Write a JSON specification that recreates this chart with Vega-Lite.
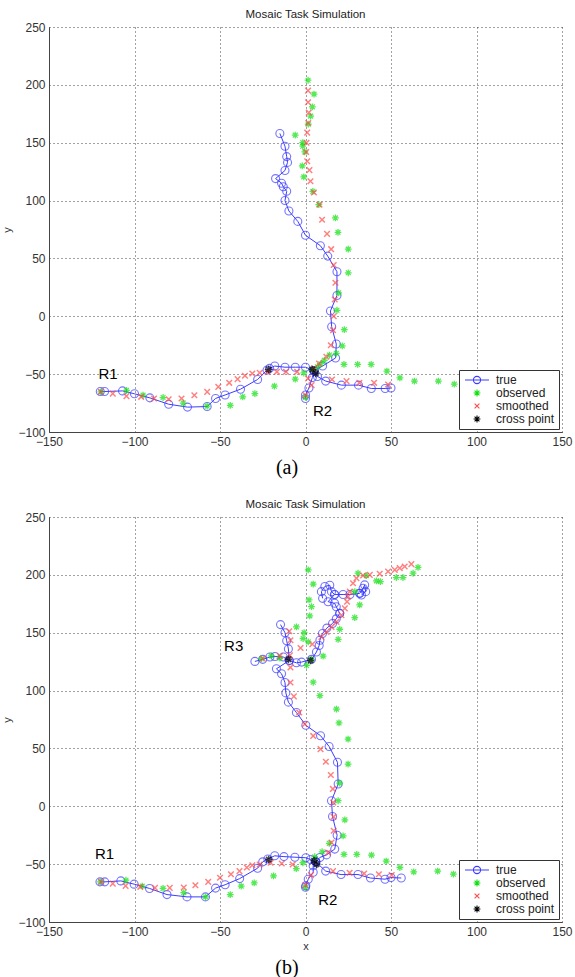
{
"$schema": "https://vega.github.io/schema/vega-lite/v6.json",
"background": "white",
"padding": {"left": 1, "top": 8, "right": 0, "bottom": 0},
"config": {
  "view": {"stroke": null},
  "font": "Liberation Sans",
  "title": {"font": "Liberation Sans", "fontSize": 11.5, "fontWeight": "normal", "color": "#222", "offset": 1},
  "axis": {"grid": true, "gridColor": "#444", "gridDash": [1, 3], "gridWidth": 1, "domainColor": "#444", "domainWidth": 1, "ticks": false, "labelFont": "Liberation Sans", "labelFontSize": 12, "labelColor": "#333", "labelPadding": 4, "labelOverlap": false, "labelFlush": false, "labelBound": false, "titleFont": "Liberation Sans", "titleFontSize": 11, "titleFontWeight": "normal", "titleColor": "#333"},
  "legend": {"title": null, "orient": "bottom-right", "offset": 3, "strokeColor": "#333", "fillColor": "white", "padding": 4, "labelFont": "Liberation Sans", "labelFontSize": 12, "labelColor": "#222", "symbolSize": 64, "symbolStrokeWidth": 1.1, "symbolOpacity": 1, "rowPadding": 1, "labelOffset": 21, "cornerRadius": 0}
},
"datasets": {
"a": [
{"s":"true","g":1,"i":0,"x":-15,"y":158},{"s":"true","g":1,"i":1,"x":-12,"y":147},{"s":"true","g":1,"i":2,"x":-11,"y":138},{"s":"true","g":1,"i":3,"x":-10.5,"y":133},{"s":"true","g":1,"i":4,"x":-12,"y":126},{"s":"true","g":1,"i":5,"x":-17.5,"y":119},{"s":"true","g":1,"i":6,"x":-14,"y":115},{"s":"true","g":1,"i":7,"x":-13,"y":112},{"s":"true","g":1,"i":8,"x":-11,"y":108},{"s":"true","g":1,"i":9,"x":-12,"y":100},{"s":"true","g":1,"i":10,"x":-9.7,"y":91},{"s":"true","g":1,"i":11,"x":-4.5,"y":82},{"s":"true","g":1,"i":12,"x":0,"y":70},{"s":"true","g":1,"i":13,"x":8.7,"y":61},{"s":"true","g":1,"i":14,"x":13,"y":52},{"s":"true","g":1,"i":15,"x":18.4,"y":38.5},{"s":"true","g":1,"i":16,"x":18.4,"y":18},{"s":"true","g":1,"i":17,"x":14.6,"y":4.6},{"s":"true","g":1,"i":18,"x":15.3,"y":-9},{"s":"true","g":1,"i":19,"x":18,"y":-24},{"s":"true","g":1,"i":20,"x":17.6,"y":-36},{"s":"true","g":1,"i":21,"x":10,"y":-43},{"s":"true","g":1,"i":22,"x":5,"y":-47},
{"s":"true","g":2,"i":0,"x":5,"y":-47},{"s":"true","g":2,"i":1,"x":4,"y":-53},{"s":"true","g":2,"i":2,"x":2,"y":-62},{"s":"true","g":2,"i":3,"x":0,"y":-68},{"s":"true","g":2,"i":4,"x":0,"y":-71},
{"s":"true","g":3,"i":0,"x":5,"y":-47},{"s":"true","g":3,"i":1,"x":0,"y":-44},{"s":"true","g":3,"i":2,"x":-6,"y":-44},{"s":"true","g":3,"i":3,"x":-12,"y":-44},{"s":"true","g":3,"i":4,"x":-18,"y":-43},{"s":"true","g":3,"i":5,"x":-21,"y":-45},{"s":"true","g":3,"i":6,"x":-22.5,"y":-46.5},{"s":"true","g":3,"i":7,"x":-28,"y":-54.6},{"s":"true","g":3,"i":8,"x":-38,"y":-63},{"s":"true","g":3,"i":9,"x":-47,"y":-68},{"s":"true","g":3,"i":10,"x":-52.6,"y":-71},{"s":"true","g":3,"i":11,"x":-57.5,"y":-78},{"s":"true","g":3,"i":12,"x":-69,"y":-78.5},{"s":"true","g":3,"i":13,"x":-80,"y":-76},{"s":"true","g":3,"i":14,"x":-91,"y":-70.5},{"s":"true","g":3,"i":15,"x":-100,"y":-67},{"s":"true","g":3,"i":16,"x":-107,"y":-64.5},{"s":"true","g":3,"i":17,"x":-117.5,"y":-65},{"s":"true","g":3,"i":18,"x":-120,"y":-65},
{"s":"true","g":4,"i":0,"x":5,"y":-47},{"s":"true","g":4,"i":1,"x":7,"y":-52},{"s":"true","g":4,"i":2,"x":11.8,"y":-56},{"s":"true","g":4,"i":3,"x":21,"y":-59.5},{"s":"true","g":4,"i":4,"x":31,"y":-59.5},{"s":"true","g":4,"i":5,"x":38.5,"y":-62.4},{"s":"true","g":4,"i":6,"x":46.6,"y":-62.4},{"s":"true","g":4,"i":7,"x":50,"y":-62},
{"s":"observed","x":1.5,"y":204},{"s":"observed","x":5,"y":192},{"s":"observed","x":4,"y":181},{"s":"observed","x":3,"y":173},{"s":"observed","x":1.6,"y":166},{"s":"observed","x":-6,"y":156.5},{"s":"observed","x":-1.6,"y":150},{"s":"observed","x":-1.6,"y":147},{"s":"observed","x":-0.4,"y":142},{"s":"observed","x":-1.9,"y":130},{"s":"observed","x":-1,"y":120.5},{"s":"observed","x":4.3,"y":108},{"s":"observed","x":7.8,"y":96.5},{"s":"observed","x":17.5,"y":85},{"s":"observed","x":19,"y":72.5},{"s":"observed","x":25,"y":58},{"s":"observed","x":25,"y":37.6},{"s":"observed","x":19.4,"y":20.3},{"s":"observed","x":18.4,"y":5.2},{"s":"observed","x":22.7,"y":-11.6},{"s":"observed","x":21.5,"y":-25.5},{"s":"observed","x":18,"y":-32},{"s":"observed","x":14,"y":-33.5},{"s":"observed","x":11,"y":-38},{"s":"observed","x":9,"y":-41},{"s":"observed","x":7,"y":-43.6},{"s":"observed","x":4,"y":-46},{"s":"observed","x":-1,"y":-49},{"s":"observed","x":-6,"y":-54.3},{"s":"observed","x":22.5,"y":-41.6},{"s":"observed","x":30.5,"y":-41.6},{"s":"observed","x":38.4,"y":-41.6},{"s":"observed","x":47.6,"y":-47.4},{"s":"observed","x":55.2,"y":-53.2},{"s":"observed","x":63.7,"y":-56},{"s":"observed","x":77.7,"y":-56},{"s":"observed","x":87,"y":-58.7},{"s":"observed","x":-18.2,"y":-60.4},{"s":"observed","x":-29.6,"y":-66.8},{"s":"observed","x":-36.7,"y":-69.6},{"s":"observed","x":-44,"y":-77},{"s":"observed","x":-57.5,"y":-77.7},{"s":"observed","x":-71.5,"y":-75},{"s":"observed","x":-83.3,"y":-70.2},{"s":"observed","x":-95,"y":-68.2},{"s":"observed","x":-104.7,"y":-64},{"s":"observed","x":-119.7,"y":-65.3},{"s":"observed","x":0,"y":-70},
{"s":"smoothed","x":1.5,"y":195},{"s":"smoothed","x":1.5,"y":185},{"s":"smoothed","x":1.9,"y":176},{"s":"smoothed","x":1.6,"y":167},{"s":"smoothed","x":1,"y":158.7},{"s":"smoothed","x":0.6,"y":150},{"s":"smoothed","x":0.4,"y":142},{"s":"smoothed","x":1,"y":134},{"s":"smoothed","x":2.3,"y":126.3},{"s":"smoothed","x":2.9,"y":116.7},{"s":"smoothed","x":4.9,"y":107},{"s":"smoothed","x":8.2,"y":96.4},{"s":"smoothed","x":9.7,"y":83.4},{"s":"smoothed","x":12.6,"y":71.2},{"s":"smoothed","x":15,"y":58},{"s":"smoothed","x":16.5,"y":44.3},{"s":"smoothed","x":17.5,"y":29},{"s":"smoothed","x":17.1,"y":14.5},{"s":"smoothed","x":16.5,"y":0},{"s":"smoothed","x":16.1,"y":-12},{"s":"smoothed","x":14.8,"y":-25},{"s":"smoothed","x":12.2,"y":-35},{"s":"smoothed","x":7.9,"y":-40.8},{"s":"smoothed","x":5,"y":-45},{"s":"smoothed","x":1.5,"y":-53.8},{"s":"smoothed","x":3.6,"y":-59.5},{"s":"smoothed","x":0,"y":-68},{"s":"smoothed","x":15.5,"y":-54.6},{"s":"smoothed","x":24,"y":-56},{"s":"smoothed","x":31.5,"y":-57.5},{"s":"smoothed","x":40.1,"y":-57.5},{"s":"smoothed","x":48.3,"y":-59},{"s":"smoothed","x":-4.9,"y":-48},{"s":"smoothed","x":-11.4,"y":-48},{"s":"smoothed","x":-16.7,"y":-48},{"s":"smoothed","x":-22.1,"y":-48},{"s":"smoothed","x":-26.8,"y":-48.8},{"s":"smoothed","x":-31.1,"y":-49.4},{"s":"smoothed","x":-35.4,"y":-51.4},{"s":"smoothed","x":-39.7,"y":-54.3},{"s":"smoothed","x":-44.6,"y":-57.5},{"s":"smoothed","x":-51,"y":-61},{"s":"smoothed","x":-57.5,"y":-65.3},{"s":"smoothed","x":-65,"y":-68.2},{"s":"smoothed","x":-72.5,"y":-71},{"s":"smoothed","x":-80,"y":-71.7},{"s":"smoothed","x":-88.6,"y":-71},{"s":"smoothed","x":-96.1,"y":-69.6},{"s":"smoothed","x":-104.7,"y":-69},{"s":"smoothed","x":-112.7,"y":-66.8},{"s":"smoothed","x":-119.7,"y":-65.3},
{"s":"cross point","x":4,"y":-46},{"s":"cross point","x":6,"y":-49.5},{"s":"cross point","x":-21.5,"y":-46},
{"s":"label","t":"R1","x":-115.5,"y":-50},{"s":"label","t":"R2","x":10,"y":-82}
],
"b": [
{"s":"true","g":1,"i":0,"x":10,"y":179.7},{"s":"true","g":1,"i":1,"x":9.3,"y":185.5},{"s":"true","g":1,"i":2,"x":11.3,"y":190},{"s":"true","g":1,"i":3,"x":14.2,"y":191},{"s":"true","g":1,"i":4,"x":15.2,"y":185.5},{"s":"true","g":1,"i":5,"x":17,"y":183},{"s":"true","g":1,"i":6,"x":13.2,"y":176.8},{"s":"true","g":1,"i":7,"x":17,"y":175.4},{"s":"true","g":1,"i":8,"x":18,"y":172.5},{"s":"true","g":1,"i":9,"x":20,"y":166.7},
{"s":"true","g":2,"i":0,"x":17,"y":183},{"s":"true","g":2,"i":1,"x":22,"y":183},{"s":"true","g":2,"i":2,"x":26,"y":183},{"s":"true","g":2,"i":3,"x":31.7,"y":184},
{"s":"true","g":3,"i":0,"x":31.7,"y":184},{"s":"true","g":3,"i":1,"x":33.7,"y":188.4},{"s":"true","g":3,"i":2,"x":34.6,"y":191.3},{"s":"true","g":3,"i":3,"x":35.2,"y":185.5},{"s":"true","g":3,"i":4,"x":32.7,"y":182.6},
{"s":"true","g":4,"i":0,"x":20,"y":166.7},{"s":"true","g":4,"i":1,"x":18,"y":162},{"s":"true","g":4,"i":2,"x":15.8,"y":158},{"s":"true","g":4,"i":3,"x":12.5,"y":154},{"s":"true","g":4,"i":4,"x":9.9,"y":149.3},{"s":"true","g":4,"i":5,"x":8.4,"y":143.5},{"s":"true","g":4,"i":6,"x":8,"y":139},{"s":"true","g":4,"i":7,"x":6.4,"y":133.3},{"s":"true","g":4,"i":8,"x":3.5,"y":127},{"s":"true","g":4,"i":9,"x":-2.3,"y":124.6},{"s":"true","g":4,"i":10,"x":-5.3,"y":124},{"s":"true","g":4,"i":11,"x":-9.5,"y":126},{"s":"true","g":4,"i":12,"x":-13,"y":129},{"s":"true","g":4,"i":13,"x":-17.9,"y":129.5},{"s":"true","g":4,"i":14,"x":-20.8,"y":129},{"s":"true","g":4,"i":15,"x":-25,"y":127},{"s":"true","g":4,"i":16,"x":-29.6,"y":125.2},
{"s":"true","g":5,"i":0,"x":-14.6,"y":157},{"s":"true","g":5,"i":1,"x":-12,"y":150},{"s":"true","g":5,"i":2,"x":-11,"y":143},{"s":"true","g":5,"i":3,"x":-10,"y":136},{"s":"true","g":5,"i":4,"x":-9.5,"y":126},{"s":"true","g":5,"i":5,"x":-17,"y":118.8},{"s":"true","g":5,"i":6,"x":-14,"y":114.5},{"s":"true","g":5,"i":7,"x":-12,"y":107},{"s":"true","g":5,"i":8,"x":-11.5,"y":98},{"s":"true","g":5,"i":9,"x":-10,"y":90},{"s":"true","g":5,"i":10,"x":-5.3,"y":81},{"s":"true","g":5,"i":11,"x":0.2,"y":70},{"s":"true","g":5,"i":12,"x":8.8,"y":61},{"s":"true","g":5,"i":13,"x":13.8,"y":51.7},{"s":"true","g":5,"i":14,"x":18.7,"y":38},{"s":"true","g":5,"i":15,"x":19.1,"y":19.2},{"s":"true","g":5,"i":16,"x":15.2,"y":4.8},{"s":"true","g":5,"i":17,"x":15.8,"y":-8.8},{"s":"true","g":5,"i":18,"x":18.5,"y":-25},{"s":"true","g":5,"i":19,"x":17.1,"y":-37},{"s":"true","g":5,"i":20,"x":12.3,"y":-42},{"s":"true","g":5,"i":21,"x":8.4,"y":-44.2},{"s":"true","g":5,"i":22,"x":6,"y":-48},
{"s":"true","g":6,"i":0,"x":6,"y":-48},{"s":"true","g":6,"i":1,"x":4.5,"y":-51.5},{"s":"true","g":6,"i":2,"x":4.5,"y":-57},{"s":"true","g":6,"i":3,"x":1.6,"y":-63},{"s":"true","g":6,"i":4,"x":0.2,"y":-68.7},{"s":"true","g":6,"i":5,"x":0,"y":-70},
{"s":"true","g":7,"i":0,"x":6,"y":-48},{"s":"true","g":7,"i":1,"x":3,"y":-46},{"s":"true","g":7,"i":2,"x":0.2,"y":-44.5},{"s":"true","g":7,"i":3,"x":-6.2,"y":-44},{"s":"true","g":7,"i":4,"x":-12.6,"y":-43.5},{"s":"true","g":7,"i":5,"x":-18,"y":-42.8},{"s":"true","g":7,"i":6,"x":-22,"y":-45.5},{"s":"true","g":7,"i":7,"x":-25,"y":-48},{"s":"true","g":7,"i":8,"x":-28,"y":-53.5},{"s":"true","g":7,"i":9,"x":-38.5,"y":-62.5},{"s":"true","g":7,"i":10,"x":-47,"y":-67.8},{"s":"true","g":7,"i":11,"x":-52.6,"y":-70.7},{"s":"true","g":7,"i":12,"x":-58.5,"y":-78.3},{"s":"true","g":7,"i":13,"x":-69.3,"y":-78.3},{"s":"true","g":7,"i":14,"x":-81,"y":-76.3},{"s":"true","g":7,"i":15,"x":-91.2,"y":-71},{"s":"true","g":7,"i":16,"x":-100.2,"y":-67.3},{"s":"true","g":7,"i":17,"x":-108,"y":-64.5},{"s":"true","g":7,"i":18,"x":-117.4,"y":-65.3},{"s":"true","g":7,"i":19,"x":-120.2,"y":-65.3},
{"s":"true","g":8,"i":0,"x":6,"y":-48},{"s":"true","g":8,"i":1,"x":11.8,"y":-56},{"s":"true","g":8,"i":2,"x":20.8,"y":-59},{"s":"true","g":8,"i":3,"x":30.7,"y":-59},{"s":"true","g":8,"i":4,"x":38,"y":-62},{"s":"true","g":8,"i":5,"x":46.5,"y":-63},{"s":"true","g":8,"i":6,"x":50,"y":-61.6},{"s":"true","g":8,"i":7,"x":56,"y":-62},
{"s":"observed","x":1.6,"y":204.3},{"s":"observed","x":4.5,"y":192},{"s":"observed","x":2.1,"y":178.3},{"s":"observed","x":3.5,"y":172.5},{"s":"observed","x":2.5,"y":164.6},{"s":"observed","x":-5.3,"y":155},{"s":"observed","x":-0.8,"y":150},{"s":"observed","x":-1.4,"y":145},{"s":"observed","x":1.6,"y":142},{"s":"observed","x":3.5,"y":127},{"s":"observed","x":0.6,"y":121.7},{"s":"observed","x":4.5,"y":107.2},{"s":"observed","x":8.4,"y":95.6},{"s":"observed","x":18.1,"y":84},{"s":"observed","x":19.6,"y":72},{"s":"observed","x":24.9,"y":58},{"s":"observed","x":30.7,"y":201.4},{"s":"observed","x":35.6,"y":199.4},{"s":"observed","x":41.5,"y":194.8},{"s":"observed","x":43.8,"y":194.2},{"s":"observed","x":53.1,"y":197.7},{"s":"observed","x":57,"y":197.7},{"s":"observed","x":62.9,"y":201.4},{"s":"observed","x":65.8,"y":206.4},{"s":"observed","x":28.8,"y":185.5},{"s":"observed","x":31.7,"y":174},{"s":"observed","x":28.8,"y":163},{"s":"observed","x":20,"y":153},{"s":"observed","x":19.1,"y":144.3},{"s":"observed","x":10.3,"y":129.8},{"s":"observed","x":-25.7,"y":127.5},{"s":"observed","x":-20,"y":130},{"s":"observed","x":-15,"y":128},
{"s":"observed","x":24.9,"y":36.5},{"s":"observed","x":20,"y":20},{"s":"observed","x":19.1,"y":4.8},{"s":"observed","x":23,"y":-11.7},{"s":"observed","x":22,"y":-25.5},{"s":"observed","x":13.9,"y":-32},{"s":"observed","x":9.7,"y":-39.3},{"s":"observed","x":5.4,"y":-43.6},{"s":"observed","x":-1.5,"y":-48.8},{"s":"observed","x":-5.4,"y":-53.8},{"s":"observed","x":22.5,"y":-41.6},{"s":"observed","x":30,"y":-41.6},{"s":"observed","x":38.6,"y":-42.2},{"s":"observed","x":47.2,"y":-47.4},{"s":"observed","x":55.2,"y":-52.9},{"s":"observed","x":63.3,"y":-56.6},{"s":"observed","x":77.3,"y":-56},{"s":"observed","x":86.5,"y":-58.7},{"s":"observed","x":-18.7,"y":-60.1},{"s":"observed","x":-30,"y":-66.2},{"s":"observed","x":-37.6,"y":-69},{"s":"observed","x":-44,"y":-76.3},{"s":"observed","x":-58.4,"y":-78.3},{"s":"observed","x":-71.2,"y":-74.6},{"s":"observed","x":-83.3,"y":-71},{"s":"observed","x":-95.5,"y":-69},{"s":"observed","x":-105,"y":-63.9},{"s":"observed","x":-120,"y":-65.3},{"s":"observed","x":0,"y":-70},
{"s":"smoothed","x":61.9,"y":209.3},{"s":"smoothed","x":58,"y":207.2},{"s":"smoothed","x":55.1,"y":205.8},{"s":"smoothed","x":52.2,"y":204.3},{"s":"smoothed","x":48.3,"y":202.9},{"s":"smoothed","x":43.4,"y":200.9},{"s":"smoothed","x":37.6,"y":200},{"s":"smoothed","x":33.7,"y":199.4},{"s":"smoothed","x":29.8,"y":197.1},{"s":"smoothed","x":27.8,"y":192.8},{"s":"smoothed","x":25.9,"y":185.5},{"s":"smoothed","x":24.9,"y":181.2},{"s":"smoothed","x":24.3,"y":176.8},{"s":"smoothed","x":23,"y":171},{"s":"smoothed","x":21,"y":165.2},{"s":"smoothed","x":18.1,"y":159.4},{"s":"smoothed","x":15.2,"y":155},{"s":"smoothed","x":12.3,"y":150.7},{"s":"smoothed","x":9.3,"y":146.4},{"s":"smoothed","x":4,"y":140},{"s":"smoothed","x":-2.9,"y":136.8},{"s":"smoothed","x":-8.8,"y":143.5},{"s":"smoothed","x":-9.5,"y":151.3},{"s":"smoothed","x":-15,"y":130},{"s":"smoothed","x":-25,"y":127.5},{"s":"smoothed","x":-9.1,"y":130.4},{"s":"smoothed","x":-8.8,"y":120},{"s":"smoothed","x":-8.8,"y":107},{"s":"smoothed","x":-6.8,"y":95},{"s":"smoothed","x":-3.7,"y":81.1},{"s":"smoothed","x":-0.4,"y":71},{"s":"smoothed","x":4.5,"y":60.8},
{"s":"smoothed","x":8.8,"y":49.4},{"s":"smoothed","x":11.9,"y":38.5},{"s":"smoothed","x":14.8,"y":27},{"s":"smoothed","x":16,"y":15},{"s":"smoothed","x":16.2,"y":3.3},{"s":"smoothed","x":16.4,"y":-9},{"s":"smoothed","x":16.5,"y":-21.2},{"s":"smoothed","x":15.2,"y":-31.3},{"s":"smoothed","x":13.2,"y":-40},{"s":"smoothed","x":3.2,"y":-59.5},{"s":"smoothed","x":0,"y":-68},{"s":"smoothed","x":16.1,"y":-56},{"s":"smoothed","x":25.8,"y":-57.5},{"s":"smoothed","x":34.3,"y":-58.1},{"s":"smoothed","x":42.9,"y":-58.7},{"s":"smoothed","x":50.4,"y":-59.5},{"s":"smoothed","x":-7.5,"y":-50.3},{"s":"smoothed","x":-13.9,"y":-49.4},{"s":"smoothed","x":-20.4,"y":-48.8},{"s":"smoothed","x":-26.8,"y":-50.3},{"s":"smoothed","x":-31.1,"y":-50.9},{"s":"smoothed","x":-34.3,"y":-52.9},{"s":"smoothed","x":-38.6,"y":-56},{"s":"smoothed","x":-43.6,"y":-58.7},{"s":"smoothed","x":-50,"y":-61.8},{"s":"smoothed","x":-56.9,"y":-65.3},{"s":"smoothed","x":-64.4,"y":-68.2},{"s":"smoothed","x":-71.2,"y":-70.2},{"s":"smoothed","x":-79.4,"y":-70.5},{"s":"smoothed","x":-88,"y":-70.5},{"s":"smoothed","x":-96.6,"y":-69.6},{"s":"smoothed","x":-105.2,"y":-68.8},{"s":"smoothed","x":-112.7,"y":-66.8},{"s":"smoothed","x":-119.5,"y":-65.3},
{"s":"cross point","x":5,"y":-47},{"s":"cross point","x":6.5,"y":-50},{"s":"cross point","x":-21.5,"y":-46},{"s":"cross point","x":-10,"y":127},{"s":"cross point","x":3,"y":126},
{"s":"label","t":"R1","x":-117.5,"y":-41.5},{"s":"label","t":"R2","x":13,"y":-81},{"s":"label","t":"R3","x":-42,"y":138.5}
]
},
"spacing": 20,
"resolve": {"scale": {"color": "independent", "shape": "independent"}},
"vconcat": [
{
 "title": {"text": "(a)", "orient": "bottom", "anchor": "middle", "font": "Liberation Serif", "fontSize": 20, "fontWeight": "normal", "color": "#000", "offset": 11},
 "resolve": {"scale": {"color": "independent", "shape": "independent"}},
 "vconcat": [
 {
  "width": 513, "height": 405,
  "title": {"text": "Mosaic Task Simulation"},
  "data": {"name": "a"},
  "resolve": {"scale": {"color": "independent", "shape": "independent"}},
  "layer": [
   {"transform": [{"filter": "datum.s === 'true'"}],
    "mark": {"type": "line", "color": "#3c3cff", "strokeWidth": 1},
    "encoding": {
     "x": {"field": "x", "type": "quantitative", "scale": {"domain": [-150, 150], "nice": false, "zero": false}, "axis": {"title": null, "values": [-150,-100,-50,0,50,100,150]}},
     "y": {"field": "y", "type": "quantitative", "scale": {"domain": [-100, 250], "nice": false, "zero": false}, "axis": {"title": "y", "titlePadding": 5, "values": [-100,-50,0,50,100,150,200,250]}},
     "detail": {"field": "g"}, "order": {"field": "i"}}},
   {"transform": [{"filter": "datum.s !== 'label'"}],
    "mark": {"type": "point", "filled": false, "size": 64},
    "encoding": {
     "x": {"field": "x", "type": "quantitative"},
     "y": {"field": "y", "type": "quantitative"},
     "color": {"field": "s", "type": "nominal", "scale": {"domain": ["true","observed","smoothed","cross point"], "range": ["#3c3cff","#10e010","#ff4a4a","#000000"]}, "legend": null},
     "strokeWidth": {"field": "s", "type": "ordinal", "scale": {"domain": ["true","observed","smoothed","cross point"], "range": [1.1, 1.6, 1.1, 1.3]}, "legend": null},
     "shape": {"field": "s", "type": "nominal", "scale": {"domain": ["true","observed","smoothed","cross point"], "range": ["M1,0A1,1 0 1 1 -1,0A1,1 0 1 1 1,0Z", "M0,-0.85L0,0.85M-0.85,0L0.85,0M-0.6,-0.6L0.6,0.6M-0.6,0.6L0.6,-0.6", "M-0.7,-0.7L0.7,0.7M-0.7,0.7L0.7,-0.7", "M0,-0.95L0,0.95M-0.95,0L0.95,0M-0.67,-0.67L0.67,0.67M-0.67,0.67L0.67,-0.67"]}, "legend": null}}},
   {"transform": [{"filter": "datum.s !== 'label'"}],
    "mark": {"type": "point", "filled": false, "size": 64, "strokeWidth": 1.1, "opacity": 0},
    "encoding": {
     "x": {"field": "x", "type": "quantitative"},
     "y": {"field": "y", "type": "quantitative"},
     "color": {"field": "s", "type": "nominal", "scale": {"domain": ["true","observed","smoothed","cross point"], "range": ["#3c3cff","#10e010","#ff4a4a","#000000"]}, "legend": {"symbolOpacity": 1}},
     "shape": {"field": "s", "type": "nominal", "scale": {"domain": ["true","observed","smoothed","cross point"], "range": ["M-1,0L5,0M2.9,0A0.9,0.9 0 1 1 1.1,0A0.9,0.9 0 1 1 2.9,0", "M2,-0.85L2,0.85M1.15,0L2.85,0M1.4,-0.6L2.6,0.6M1.4,0.6L2.6,-0.6", "M1.4,-0.6L2.6,0.6M1.4,0.6L2.6,-0.6", "M2,-0.85L2,0.85M1.15,0L2.85,0M1.4,-0.6L2.6,0.6M1.4,0.6L2.6,-0.6"]}, "legend": {"symbolOpacity": 1}}}},
   {"transform": [{"filter": "datum.s === 'label'"}],
    "mark": {"type": "text", "fontSize": 15, "color": "#000", "font": "Liberation Sans"},
    "encoding": {"x": {"field": "x", "type": "quantitative"}, "y": {"field": "y", "type": "quantitative"}, "text": {"field": "t"}}}
  ]
 }
 ]
},
{
 "title": {"text": "(b)", "orient": "bottom", "anchor": "middle", "font": "Liberation Serif", "fontSize": 20, "fontWeight": "normal", "color": "#000", "offset": 7},
 "resolve": {"scale": {"color": "independent", "shape": "independent"}},
 "vconcat": [
 {
  "width": 513, "height": 405,
  "title": {"text": "Mosaic Task Simulation"},
  "data": {"name": "b"},
  "resolve": {"scale": {"color": "independent", "shape": "independent"}},
  "layer": [
   {"transform": [{"filter": "datum.s === 'true'"}],
    "mark": {"type": "line", "color": "#3c3cff", "strokeWidth": 1},
    "encoding": {
     "x": {"field": "x", "type": "quantitative", "scale": {"domain": [-150, 150], "nice": false, "zero": false}, "axis": {"title": "x", "titlePadding": 3, "values": [-150,-100,-50,0,50,100,150]}},
     "y": {"field": "y", "type": "quantitative", "scale": {"domain": [-100, 250], "nice": false, "zero": false}, "axis": {"title": "y", "titlePadding": 5, "values": [-100,-50,0,50,100,150,200,250]}},
     "detail": {"field": "g"}, "order": {"field": "i"}}},
   {"transform": [{"filter": "datum.s !== 'label'"}],
    "mark": {"type": "point", "filled": false, "size": 64},
    "encoding": {
     "x": {"field": "x", "type": "quantitative"},
     "y": {"field": "y", "type": "quantitative"},
     "color": {"field": "s", "type": "nominal", "scale": {"domain": ["true","observed","smoothed","cross point"], "range": ["#3c3cff","#10e010","#ff4a4a","#000000"]}, "legend": null},
     "strokeWidth": {"field": "s", "type": "ordinal", "scale": {"domain": ["true","observed","smoothed","cross point"], "range": [1.1, 1.6, 1.1, 1.3]}, "legend": null},
     "shape": {"field": "s", "type": "nominal", "scale": {"domain": ["true","observed","smoothed","cross point"], "range": ["M1,0A1,1 0 1 1 -1,0A1,1 0 1 1 1,0Z", "M0,-0.85L0,0.85M-0.85,0L0.85,0M-0.6,-0.6L0.6,0.6M-0.6,0.6L0.6,-0.6", "M-0.7,-0.7L0.7,0.7M-0.7,0.7L0.7,-0.7", "M0,-0.95L0,0.95M-0.95,0L0.95,0M-0.67,-0.67L0.67,0.67M-0.67,0.67L0.67,-0.67"]}, "legend": null}}},
   {"transform": [{"filter": "datum.s !== 'label'"}],
    "mark": {"type": "point", "filled": false, "size": 64, "strokeWidth": 1.1, "opacity": 0},
    "encoding": {
     "x": {"field": "x", "type": "quantitative"},
     "y": {"field": "y", "type": "quantitative"},
     "color": {"field": "s", "type": "nominal", "scale": {"domain": ["true","observed","smoothed","cross point"], "range": ["#3c3cff","#10e010","#ff4a4a","#000000"]}, "legend": {"symbolOpacity": 1}},
     "shape": {"field": "s", "type": "nominal", "scale": {"domain": ["true","observed","smoothed","cross point"], "range": ["M-1,0L5,0M2.9,0A0.9,0.9 0 1 1 1.1,0A0.9,0.9 0 1 1 2.9,0", "M2,-0.85L2,0.85M1.15,0L2.85,0M1.4,-0.6L2.6,0.6M1.4,0.6L2.6,-0.6", "M1.4,-0.6L2.6,0.6M1.4,0.6L2.6,-0.6", "M2,-0.85L2,0.85M1.15,0L2.85,0M1.4,-0.6L2.6,0.6M1.4,0.6L2.6,-0.6"]}, "legend": {"symbolOpacity": 1}}}},
   {"transform": [{"filter": "datum.s === 'label'"}],
    "mark": {"type": "text", "fontSize": 15, "color": "#000", "font": "Liberation Sans"},
    "encoding": {"x": {"field": "x", "type": "quantitative"}, "y": {"field": "y", "type": "quantitative"}, "text": {"field": "t"}}}
  ]
 }
 ]
}
]
}
